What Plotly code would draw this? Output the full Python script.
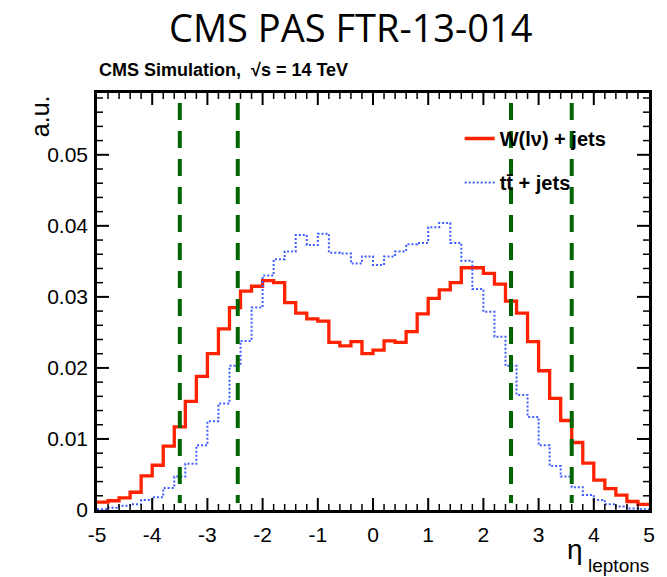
import numpy as np
import plotly.graph_objects as go

# ---------------- data ----------------
bin_edges = np.round(np.linspace(-5.0, 5.0, 51), 2)   # 50 bins of width 0.2

w_jets = [0.0011, 0.0013, 0.0017, 0.0025, 0.0048, 0.0063, 0.0090, 0.0117, 0.0153, 0.0188,
          0.0220, 0.0255, 0.0285, 0.0308, 0.0315, 0.0323, 0.0320, 0.0292, 0.0277, 0.0269,
          0.0266, 0.0236, 0.0231, 0.0237, 0.0220,
          0.0225, 0.0238, 0.0236, 0.0251, 0.0276, 0.0298, 0.0310, 0.0320, 0.0341, 0.0341,
          0.0333, 0.0318, 0.0294, 0.0277, 0.0237, 0.0196, 0.0157, 0.0126, 0.0095, 0.0066,
          0.0042, 0.0030, 0.0021, 0.0012, 0.0008]

tt_jets = [0.0001, 0.0003, 0.0006, 0.0008, 0.0014, 0.0018, 0.0031, 0.0047, 0.0065, 0.0091,
           0.0125, 0.0150, 0.0203, 0.0238, 0.0285, 0.0330, 0.0353, 0.0364, 0.0387, 0.0373,
           0.0389, 0.0362, 0.0361, 0.0347, 0.0357,
           0.0345, 0.0357, 0.0364, 0.0374, 0.0376, 0.0398, 0.0404, 0.0376, 0.0351, 0.0311,
           0.0279, 0.0244, 0.0203, 0.0162, 0.0131, 0.0091, 0.0062, 0.0047, 0.0032, 0.0021,
           0.0014, 0.0008, 0.0005, 0.0002, 0.0001]

cut_positions = [-3.5, -2.45, 2.5, 3.6]
cut_span = [0.0573, 0.0010]

x_tick_vals = [-5, -4, -3, -2, -1, 0, 1, 2, 3, 4, 5]
x_tick_labels = ["-5", "-4", "-3", "-2", "-1", "0", "1", "2", "3", "4", "5"]
y_tick_vals = [0, 0.01, 0.02, 0.03, 0.04, 0.05]
y_tick_labels = ["0", "0.01", "0.02", "0.03", "0.04", "0.05"]

series_names = ["<b>W(lν) + jets</b>", "<b>tt̄ + jets</b>"]

# ---------------- figure ----------------
W, H = 667, 577
L, R, T, B = 97, 16, 93, 67
pw = W - L - R
ph = H - T - B

X_RANGE = [-5, 5]
Y_RANGE = [0, 0.0587]

fig = go.Figure()

def step_y(vals):
    return list(vals) + [vals[-1]]

fig.add_trace(go.Scatter(
    x=bin_edges, y=step_y(w_jets), mode="lines", line_shape="hv",
    line=dict(color="#ff2200", width=3.3), name=series_names[0],
    legendgroup="a"))
fig.add_trace(go.Scatter(
    x=bin_edges, y=step_y(tt_jets), mode="lines", line_shape="hv",
    line=dict(color="#3f5cff", width=2, dash="2px,2px"), name=series_names[1],
    legendgroup="b"))

for xc in cut_positions:
    fig.add_trace(go.Scatter(
        x=[xc, xc], y=cut_span, mode="lines",
        line=dict(color="#006400", width=4, dash="17px,11px"),
        showlegend=False, hoverinfo="skip"))

# ---- ROOT-style inside ticks on all four sides, as pixel-sized shapes ----
x_minor = [float(v) for v in np.round(np.arange(-5.0, 5.001, 0.2), 2)
           if round(float(v), 2) not in x_tick_vals]
y_minor = [float(v) for v in np.round(np.arange(0.0, 0.0587, 0.002), 4)
           if round(float(v), 4) not in y_tick_vals]

tick_shapes = []

def add_tick_shapes(xvals, yvals, length, width):
    for v in xvals:
        for anchor, sign in ((Y_RANGE[0], 1), (Y_RANGE[1], -1)):
            tick_shapes.append(dict(
                type="line", layer="above", xref="x", yref="y",
                x0=v, x1=v, ysizemode="pixel", yanchor=anchor, y0=0, y1=sign * length,
                line=dict(color="black", width=width)))
    for v in yvals:
        for anchor, sign in ((X_RANGE[0], 1), (X_RANGE[1], -1)):
            tick_shapes.append(dict(
                type="line", layer="above", xref="x", yref="y",
                y0=v, y1=v, xsizemode="pixel", xanchor=anchor, x0=0, x1=sign * length,
                line=dict(color="black", width=width)))

add_tick_shapes(x_tick_vals[1:-1], y_tick_vals[1:], 12, 2)
add_tick_shapes(x_minor, y_minor, 6, 1.5)

font_axis = dict(family="Liberation Sans, Arial, sans-serif", size=21, color="black")

fig.update_layout(
    xaxis=dict(
        range=X_RANGE, tickmode="array", tickvals=x_tick_vals, ticktext=x_tick_labels,
        showline=True, linecolor="black", linewidth=2.5, mirror=True,
        ticks="outside", ticklen=4, tickcolor="rgba(0,0,0,0)",
        showgrid=False, zeroline=False, tickfont=font_axis),
    yaxis=dict(
        range=Y_RANGE, tickmode="array", tickvals=y_tick_vals, ticktext=y_tick_labels,
        showline=True, linecolor="black", linewidth=2.5, mirror=True,
        ticks="outside", ticklen=2, tickcolor="rgba(0,0,0,0)",
        showgrid=False, zeroline=False, tickfont=font_axis),
    shapes=tick_shapes,
)

fig.update_layout(
    width=W, height=H,
    margin=dict(l=L, r=R, t=T, b=B),
    paper_bgcolor="white", plot_bgcolor="white",
    showlegend=True,
    legend=dict(
        x=(461 - L) / pw, y=1 - (119 - T) / ph, xanchor="left", yanchor="top",
        bgcolor="rgba(0,0,0,0)", borderwidth=0,
        font=dict(family="Liberation Sans, Arial, sans-serif", size=20, color="black"),
        tracegroupgap=15, itemwidth=30, traceorder="grouped",
    ),
    annotations=[
        dict(text="CMS PAS FTR-13-014", xref="paper", yref="paper",
             x=(352 - L) / pw, y=1 + (T - 27) / ph, xanchor="center", yanchor="middle",
             showarrow=False,
             font=dict(family="Open Sans, sans-serif", size=38, color="black")),
        dict(text="<b>CMS Simulation,  √s = 14 TeV</b>", xref="paper", yref="paper",
             x=(97 - L) / pw, y=1 + (T - 70) / ph, xanchor="left", yanchor="middle",
             showarrow=False,
             font=dict(family="Liberation Sans, Arial, sans-serif", size=18, color="black")),
        dict(text="a.u.", xref="paper", yref="paper", textangle=-90,
             x=(40 - L) / pw, y=1 - (93 - T) / ph, xanchor="center", yanchor="top",
             showarrow=False,
             font=dict(family="Liberation Sans, Arial, sans-serif", size=25, color="black")),
        dict(text="η", xref="paper", yref="paper",
             x=(577 - L) / pw, y=-(549 - (T + ph)) / ph, xanchor="center", yanchor="middle",
             showarrow=False,
             font=dict(family="Liberation Sans, Arial, sans-serif", size=28, color="black")),
        dict(text="leptons", xref="paper", yref="paper",
             x=(653 - L) / pw, y=-(565 - (T + ph)) / ph, xanchor="right", yanchor="middle",
             showarrow=False,
             font=dict(family="Liberation Sans, Arial, sans-serif", size=19, color="black")),
    ],
)

fig.write_html("out.html")
